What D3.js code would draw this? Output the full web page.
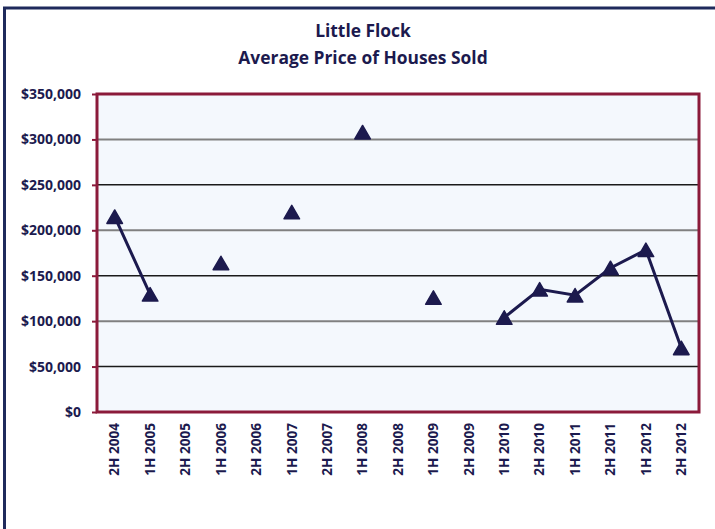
<!DOCTYPE html>
<html><head><meta charset="utf-8">
<script src="https://cdn.jsdelivr.net/npm/d3@7"></script>
<style>body{margin:0;background:#fff;}svg{display:block;}</style>
</head><body>
<script>
const categories = ["2H 2004","1H 2005","2H 2005","1H 2006","2H 2006","1H 2007","2H 2007","1H 2008","2H 2008","1H 2009","2H 2009","1H 2010","2H 2010","1H 2011","2H 2011","1H 2012","2H 2012"];
const avgPrice = [215000,129500,null,164000,null,220000,null,308000,null,126000,null,104000,135000,128500,158500,178500,70500];
const yTicks = [0,50000,100000,150000,200000,250000,300000,350000];
const titleLines = ["Little Flock","Average Price of Houses Sold"];

const W=715,H=529;
const m={left:97,right:699,top:94,bottom:412};
const ink="#1c1a4e";
const svg=d3.select("body").append("svg").attr("width",W).attr("height",H);

// outer chart border
svg.append("rect").attr("x",4.5).attr("y",8).attr("width",W+10).attr("height",H+10)
  .attr("fill","#fff").attr("stroke","#1f2a5c").attr("stroke-width",3);

const x=d3.scaleBand().domain(categories).range([m.left,m.right]);
const y=d3.scaleLinear().domain([0,350000]).range([m.bottom,m.top]);

svg.append("rect").attr("x",m.left).attr("y",m.top).attr("width",m.right-m.left).attr("height",m.bottom-m.top)
  .attr("fill","#f4f8fd");

// gridlines
svg.append("g").selectAll("line").data(yTicks.filter(d=>d>0&&d<350000)).join("line")
  .attr("x1",m.left).attr("x2",m.right).attr("y1",d=>y(d)).attr("y2",d=>y(d))
  .attr("stroke",d=>(d/50000)%2===0?"#808080":"#1a1a1a")
  .attr("stroke-width",d=>(d/50000)%2===0?2:1.5);

const font="'Open Sans',sans-serif";
// y axis
const yAxis=svg.append("g").attr("transform",`translate(${m.left},0)`)
  .call(d3.axisLeft(y).tickValues(yTicks).tickSize(5).tickFormat(d=>"$"+d3.format(",")(d)));
yAxis.select(".domain").remove();
yAxis.selectAll(".tick line").attr("stroke","#8b1a3a").attr("stroke-width",2);
yAxis.selectAll(".tick text").attr("x",-16).attr("fill",ink)
  .style("font-family",font).style("font-weight","700").style("font-size","14px");

// x axis labels
const xAxis=svg.append("g").attr("transform",`translate(0,${m.bottom})`)
  .call(d3.axisBottom(x).tickSize(0));
xAxis.select(".domain").remove();
xAxis.selectAll(".tick text").attr("fill",ink)
  .attr("transform","rotate(-90)").attr("text-anchor","end").attr("x",-11).attr("y",0).attr("dy","0.35em")
  .style("font-family",font).style("font-weight","700").style("font-size","13.6px");

// plot border
svg.append("rect").attr("x",m.left).attr("y",m.top).attr("width",m.right-m.left).attr("height",m.bottom-m.top)
  .attr("fill","none").attr("stroke","#8b1a3a").attr("stroke-width",3);

// line
const pts=categories.map((c,i)=>({c,v:avgPrice[i]}));
const line=d3.line().defined(d=>d.v!=null).x(d=>x(d.c)+x.bandwidth()/2).y(d=>y(d.v));
svg.append("path").datum(pts).attr("d",line).attr("fill","none").attr("stroke",ink).attr("stroke-width",3);

// markers (shift so bounding box is centred on the value)
const triSize=105;
const triH=Math.sqrt(4*triSize/Math.sqrt(3))*Math.sqrt(3)/2;
const tri=d3.symbol().type(d3.symbolTriangle).size(triSize);
svg.append("g").selectAll("path").data(pts.filter(d=>d.v!=null)).join("path")
  .attr("d",tri).attr("transform",d=>`translate(${x(d.c)+x.bandwidth()/2},${y(d.v)+triH/6})`)
  .attr("fill",ink).attr("stroke",ink).attr("stroke-width",1.5).attr("stroke-linejoin","round");

// title
svg.append("g").selectAll("text").data(titleLines).join("text")
  .attr("x",363).attr("y",(d,i)=>37+i*27).attr("text-anchor","middle").attr("fill",ink)
  .style("font-family",font).style("font-weight","700").style("font-size","17.4px")
  .text(d=>d);
</script>
</body></html>
